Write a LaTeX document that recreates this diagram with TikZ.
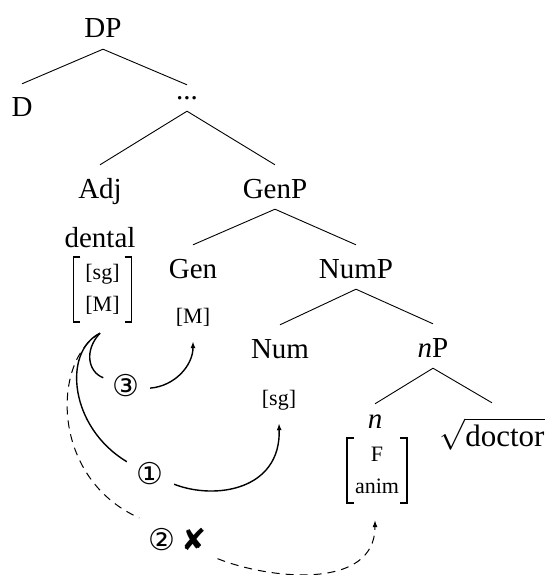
\RequirePackage{fix-cm}
\documentclass[tikz,border=0pt]{standalone}
\usepackage{fontspec}
\setmainfont{Liberation Serif}
\newfontfamily\symfont{DejaVu Sans}
\usetikzlibrary{arrows.meta}

\begin{document}
\begin{tikzpicture}[x=1pt,y=-1pt,
  tree/.style={font=\fontsize{29}{34}\selectfont, anchor=base,
    text height=27pt, text depth=5pt, inner xsep=1pt, inner ysep=6pt},
  word/.style={font=\fontsize{29}{34}\selectfont, anchor=base, inner sep=0pt},
  feat/.style={font=\fontsize{22}{26}\selectfont, anchor=base,
    text depth=5pt, inner xsep=0pt, inner ysep=13pt},
  featlist/.style={font=\fontsize{22}{32}\selectfont, align=center, inner sep=0pt},
  bracket/.style={line width=1.5pt},
  tag/.style={circle, inner sep=0pt, font=\symfont\fontsize{30}{30}\selectfont},
  branch/.style={line width=0.9pt},
  agree/.style={line width=1.4pt},
  blocked/.style={line width=1pt, dash pattern=on 8pt off 6pt},
  tip/.style={-{Latex[length=7pt,width=5pt]}}
]
\path[use as bounding box] (0,0) rectangle (549,575);

% tree labels
\node[tree] (DP) at (103,38) {DP};
\node[tree] (D) at (22,117) {D};
\node[tree, text height=9pt] (dots) at (187,100) {...};
\node[tree] (Adj) at (100,198) {Adj};
\node[tree] (GenP) at (275,198) {GenP};
\node[tree] (Gen) at (193,278) {Gen};
\node[tree] (NumP) at (356,278) {NumP};
\node[tree] (Num) at (280,358) {Num};
\node[tree] (nP) at (433,357) {\textit{n}P};
\node[tree, text height=18pt] (n) at (375,428) {\textit{n}};
\node[tree, text height=37pt, font=\fontsize{31}{36}\selectfont] (root) at (492,446) {$\sqrt{\mbox{doctor}}$};

% lexical item and feature bundles
\node[word] (dental) at (100,247) {dental};
\node[featlist, minimum width=58pt, minimum height=65pt] (adjfeat) at (102.5,289.5) {[sg]\\{[M]}};
\node[feat] (genfeat) at (193,323) {[M]};
\node[feat] (numfeat) at (279,405) {[sg]};
\node[featlist, minimum width=60pt, minimum height=65pt] (nfeat) at (377,470.5) {F\\anim};

% square brackets around the bundles
\foreach \m in {adjfeat,nfeat}{
  \draw[bracket] ([xshift=7pt]\m.north west) -- (\m.north west) -- (\m.south west) -- ([xshift=7pt]\m.south west);
  \draw[bracket] ([xshift=-7pt]\m.north east) -- (\m.north east) -- (\m.south east) -- ([xshift=-7pt]\m.south east);
}

% branches
\draw[branch] (DP.south) -- (D.north);
\draw[branch] (DP.south) -- (dots.north);
\draw[branch] (dots.south) -- (Adj.north);
\draw[branch] (dots.south) -- (GenP.north);
\draw[branch] (GenP.south) -- (Gen.north);
\draw[branch] (GenP.south) -- (NumP.north);
\draw[branch] (NumP.south) -- (Num.north);
\draw[branch] (NumP.south) -- (nP.north);
\draw[branch] (nP.south) -- (n.north);
\draw[branch] (nP.south) -- (root.north);

% step labels on the agreement paths
\node[tag, minimum size=48pt] (c3) at (126,386) {③};
\node[tag, minimum size=52pt] (c1) at (150,474) {①};
\node[tag, minimum size=88pt] (c2) at (177.5,540) {②\hspace{6pt}✘};

% ends of the agreement paths
\coordinate (agr) at ([xshift=-2.5pt,yshift=-11pt]adjfeat.south);
\coordinate (ngoal) at ([xshift=-2pt,yshift=-17pt]nfeat.south);

% agreement paths
\draw[agree] (agr) .. controls +(-16,17) and +(-15.4,-5.8) .. (c3.160);
\draw[agree, tip] (c3.-5) .. controls +(25,-2) and +(0,24) .. (genfeat.south);
\draw[agree] (agr) .. controls +(-38,19) and +(-57,-34) .. (c1.152);
\draw[agree, tip] (c1.-23) .. controls +(41,16) and +(2,67) .. (numfeat.south);
\draw[blocked] (agr) .. controls +(-48,27) and +(-89.4,-40) .. (c2.150);
\draw[blocked, tip] (c2.-25) .. controls +(53,21) and +(0,70) .. (ngoal);
\end{tikzpicture}
\end{document}
